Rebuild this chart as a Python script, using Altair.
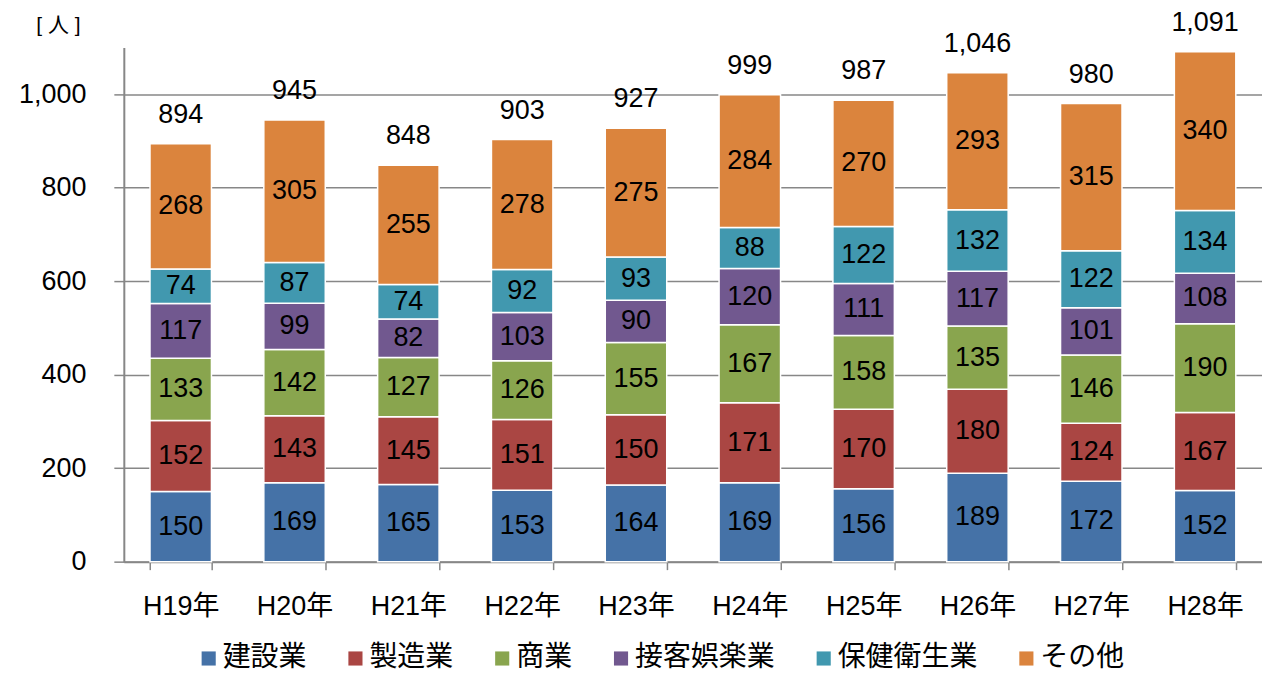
import altair as alt
import pandas as pd

categories = ["H19年", "H20年", "H21年", "H22年", "H23年", "H24年", "H25年", "H26年", "H27年", "H28年"]
series = ["建設業", "製造業", "商業", "接客娯楽業", "保健衛生業", "その他"]
colors = ["#4572A7", "#AA4643", "#89A54E", "#71588F", "#4198AF", "#DB843D"]

v_kensetsu = [150, 169, 165, 153, 164, 169, 156, 189, 172, 152]
v_seizo = [152, 143, 145, 151, 150, 171, 170, 180, 124, 167]
v_shogyo = [133, 142, 127, 126, 155, 167, 158, 135, 146, 190]
v_sekkyaku = [117, 99, 82, 103, 90, 120, 111, 117, 101, 108]
v_hoken = [74, 87, 74, 92, 93, 88, 122, 132, 122, 134]
v_sonota = [268, 305, 255, 278, 275, 284, 270, 293, 315, 340]
totals = [894, 945, 848, 903, 927, 999, 987, 1046, 980, 1091]

values = [v_kensetsu, v_seizo, v_shogyo, v_sekkyaku, v_hoken, v_sonota]

rows = []
for si, (s, vals) in enumerate(zip(series, values)):
    for c, v in zip(categories, vals):
        rows.append({"year": c, "series": s, "idx": si, "value": v})
df = pd.DataFrame(rows)
df_tot = pd.DataFrame({"year": categories, "total": totals})

FONT = "Liberation Sans, Arial, Noto Sans CJK JP, sans-serif"
GRAY = "#878787"

x = alt.X("year:N", sort=categories, title=None,
          scale=alt.Scale(paddingInner=0.46, paddingOuter=0.23),
          axis=alt.Axis(labelAngle=0, tickBand="extent", tickSize=8, tickColor=GRAY,
                        tickWidth=1.5, domainColor=GRAY, domainWidth=2,
                        labelFontSize=27, labelPadding=24, labelColor="#000000",
                        labelFont=FONT))

yscale = alt.Scale(domain=[0, 1100], nice=False)

bars = alt.Chart(df).mark_bar(stroke="white", strokeWidth=1.5).encode(
    x=x,
    y=alt.Y("value:Q", stack="zero", scale=yscale, title="[ 人 ]",
            axis=alt.Axis(values=[0, 200, 400, 600, 800, 1000], format=",.0f",
                          tickSize=10, tickColor=GRAY, tickWidth=1.5,
                          domainColor=GRAY, domainWidth=2,
                          gridColor=GRAY, gridWidth=1.5,
                          labelFontSize=27, labelPadding=28, labelColor="#000000",
                          labelFont=FONT,
                          titleAngle=0, titleX=-66, titleY=-22, titleAlign="center",
                          titleBaseline="middle", titleFontSize=21,
                          titleFontWeight="normal", titleFont=FONT, titleColor="#000000")),
    color=alt.Color("series:N", sort=series,
                    scale=alt.Scale(domain=series, range=colors),
                    legend=alt.Legend(orient="none", legendX=67, legendY=598,
                                      direction="horizontal", columns=6, title=None,
                                      symbolType="square", symbolSize=200,
                                      symbolStrokeWidth=0, labelFontSize=28,
                                      labelFont=FONT, labelOffset=0, symbolOffset=4,
                                      columnPadding=30, labelColor="#000000")),
    order=alt.Order("idx:Q", sort="ascending"),
)

seg_text = alt.Chart(df).transform_stack(
    stack="value", groupby=["year"], as_=["v0", "v1"],
    sort=[alt.SortField("idx", order="ascending")]
).transform_calculate(
    mid="(datum.v0 + datum.v1) / 2"
).mark_text(fontSize=27, font=FONT, color="#000000", baseline="middle").encode(
    x=alt.X("year:N", sort=categories),
    y=alt.Y("mid:Q", scale=yscale),
    text=alt.Text("value:Q"),
)

tot_text = alt.Chart(df_tot).mark_text(fontSize=27, font=FONT, color="#000000",
                                        baseline="alphabetic", dy=-21).encode(
    x=alt.X("year:N", sort=categories),
    y=alt.Y("total:Q", scale=yscale),
    text=alt.Text("total:Q", format=",.0f"),
)

chart = alt.layer(bars, seg_text, tot_text).properties(
    width=1140, height=515,
    padding={"left": 10, "top": 0, "right": 0, "bottom": 0},
).configure_view(stroke=None).configure_axisX(grid=False)

chart.save("out.html", embed_options={"renderer": "svg", "actions": False})
